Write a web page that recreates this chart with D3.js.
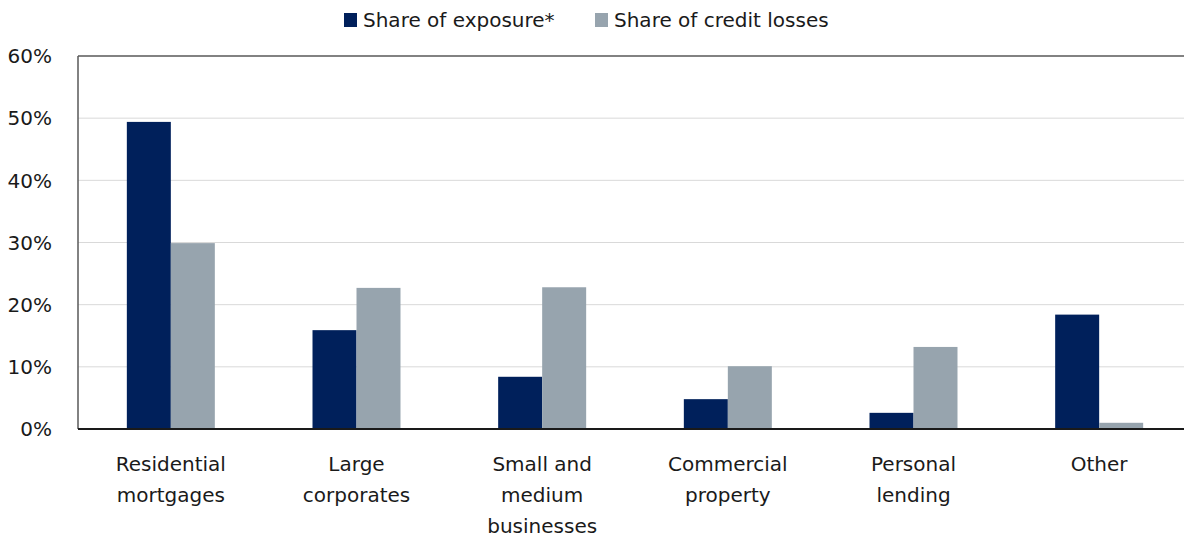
<!DOCTYPE html>
<html>

<head>
    <meta charset="utf-8">
    <style>
        body { margin: 0; background: #fff; }
        svg { font-family: "DejaVu Sans", sans-serif; }
        .grid line { stroke: #d9d9d9; stroke-width: 1px; }
        .label { font-size: 20px; fill: #1a1a1a; }
    </style>
</head>

<body>
    <script src="https://cdn.jsdelivr.net/npm/d3@7"></script>
    <script>
        // Data
        var categories = [["Residential", "mortgages"], ["Large", "corporates"], ["Small and", "medium", "businesses"],
            ["Commercial", "property"], ["Personal", "lending"], ["Other"]];
        var seriesNames = ["Share of exposure*", "Share of credit losses"];
        var exposure = [49.4, 15.9, 8.4, 4.8, 2.6, 18.4];
        var creditLosses = [29.9, 22.7, 22.8, 10.1, 13.2, 1.0];
        var yTicks = [0, 10, 20, 30, 40, 50, 60];
        var colors = ["#00205b", "#97a4ae"];

        var margin = { top: 56, right: -8, bottom: 108, left: 78 },
            width = 1184 - margin.left - margin.right,
            height = 537 - margin.top - margin.bottom;

        var svg = d3.select("body").append("svg")
            .attr("width", 1184)
            .attr("height", 537);

        var g = svg.append("g")
            .attr("transform", "translate(" + margin.left + "," + margin.top + ")");

        var x = d3.scaleBand().domain(d3.range(categories.length)).range([0, width]).paddingInner(0).paddingOuter(0);
        var x1 = d3.scaleBand().domain([0, 1]).range([0, x.bandwidth()]).paddingInner(0).paddingOuter(1.11);
        var y = d3.scaleLinear().domain([0, 60]).range([height, 0]);

        // gridlines
        g.append("g").attr("class", "grid")
            .selectAll("line").data(yTicks.slice(1, -1)).enter().append("line")
            .attr("x1", 0).attr("x2", width)
            .attr("y1", function (d) { return y(d); }).attr("y2", function (d) { return y(d); });

        // bars
        var series = [exposure, creditLosses];
        series.forEach(function (vals, s) {
            g.append("g").selectAll("rect").data(vals).enter().append("rect")
                .attr("x", function (d, i) { return x(i) + x1(s); })
                .attr("width", x1.bandwidth())
                .attr("y", function (d) { return y(d); })
                .attr("height", function (d) { return y(0) - y(d); })
                .attr("fill", colors[s]);
        });

        // frame
        g.append("line").attr("x1", 0).attr("x2", width).attr("y1", 0).attr("y2", 0)
            .attr("stroke", "#595959").attr("stroke-width", 1.5);
        g.append("line").attr("x1", 0).attr("x2", 0).attr("y1", 0).attr("y2", height)
            .attr("stroke", "#595959").attr("stroke-width", 1.5);
        g.append("line").attr("x1", 0).attr("x2", width).attr("y1", height).attr("y2", height)
            .attr("stroke", "#1a1a1a").attr("stroke-width", 2);

        // y axis labels
        g.selectAll(".ylab").data(yTicks).enter().append("text")
            .attr("class", "label")
            .attr("x", -26)
            .attr("y", function (d) { return y(d); })
            .attr("dy", "0.36em")
            .attr("text-anchor", "end")
            .text(function (d) { return d + "%"; });

        // x axis labels
        var xl = g.selectAll(".xlab").data(categories).enter().append("text")
            .attr("class", "label")
            .attr("text-anchor", "middle")
            .attr("transform", function (d, i) { return "translate(" + (x(i) + x.bandwidth() / 2) + "," + (height + 42) + ")"; });
        xl.selectAll("tspan").data(function (d) { return d; }).enter().append("tspan")
            .attr("x", 0)
            .attr("y", function (d, i) { return i * 31; })
            .text(function (d) { return d; });

        // legend
        var legendX = [344, 595];
        var lg = svg.append("g");
        seriesNames.forEach(function (name, i) {
            lg.append("rect").attr("x", legendX[i]).attr("y", 13).attr("width", 13).attr("height", 14)
                .attr("fill", colors[i]);
            lg.append("text").attr("class", "label").attr("x", legendX[i] + 19).attr("y", 20)
                .attr("dy", "0.36em").text(name);
        });
    </script>
</body>

</html>
